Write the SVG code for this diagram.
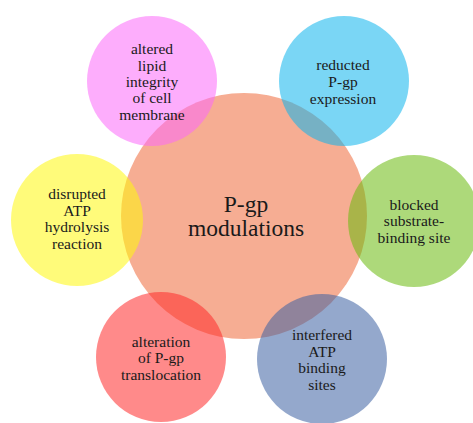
<svg xmlns="http://www.w3.org/2000/svg" width="473" height="423" viewBox="0 0 473 423">
<style>
.c{fill-opacity:0.55}
.s{font-size:15.5px}
.b{font-size:23.5px}
</style>
<rect width="473" height="423" fill="#ffffff"/>
<g id="center">
<circle cx="244" cy="216" r="123" fill="#EE6A3A" fill-opacity="0.55"/>
</g>
<g id="connectors"/>
<g font-family="Liberation Serif, serif" fill="#1a1a1a" text-anchor="middle">
<g id="n-lipid">
<circle class="c" cx="152" cy="81" r="65" fill="#FB6AF9"/>
<text class="s"><tspan x="152" y="54">altered</tspan><tspan x="152" y="71">lipid</tspan><tspan x="152" y="87">integrity</tspan><tspan x="152" y="103">of cell</tspan><tspan x="152" y="120">membrane</tspan></text>
</g>
<g id="n-expression">
<circle class="c" cx="344" cy="81" r="65" fill="#0DB4ED"/>
<text class="s"><tspan x="343" y="70">reducted</tspan><tspan x="343" y="87">P-gp</tspan><tspan x="343" y="104">expression</tspan></text>
</g>
<g id="n-substrate">
<circle class="c" cx="414" cy="221" r="66" fill="#6ABA0D"/>
<text class="s"><tspan x="414" y="210">blocked</tspan><tspan x="414" y="226">substrate-</tspan><tspan x="414" y="243">binding site</tspan></text>
</g>
<g id="n-atpbinding">
<circle class="c" cx="322" cy="359" r="65" fill="#3C61A2"/>
<text class="s"><tspan x="322" y="340">interfered</tspan><tspan x="322" y="357">ATP</tspan><tspan x="322" y="373">binding</tspan><tspan x="322" y="390">sites</tspan></text>
</g>
<g id="n-translocation">
<circle class="c" cx="161" cy="357" r="65" fill="#FF2A2A"/>
<text class="s"><tspan x="161" y="347">alteration</tspan><tspan x="161" y="363">of P-gp</tspan><tspan x="161" y="380">translocation</tspan></text>
</g>
<g id="n-hydrolysis">
<circle class="c" cx="77" cy="220" r="66" fill="#FFF80D"/>
<text class="s"><tspan x="77" y="199">disrupted</tspan><tspan x="77" y="216">ATP</tspan><tspan x="77" y="232">hydrolysis</tspan><tspan x="77" y="249">reaction</tspan></text>
</g>
<g id="center-label">
<text class="b"><tspan x="246" y="212">P-gp</tspan><tspan x="246" y="236">modulations</tspan></text>
</g>
</g>
</svg>
